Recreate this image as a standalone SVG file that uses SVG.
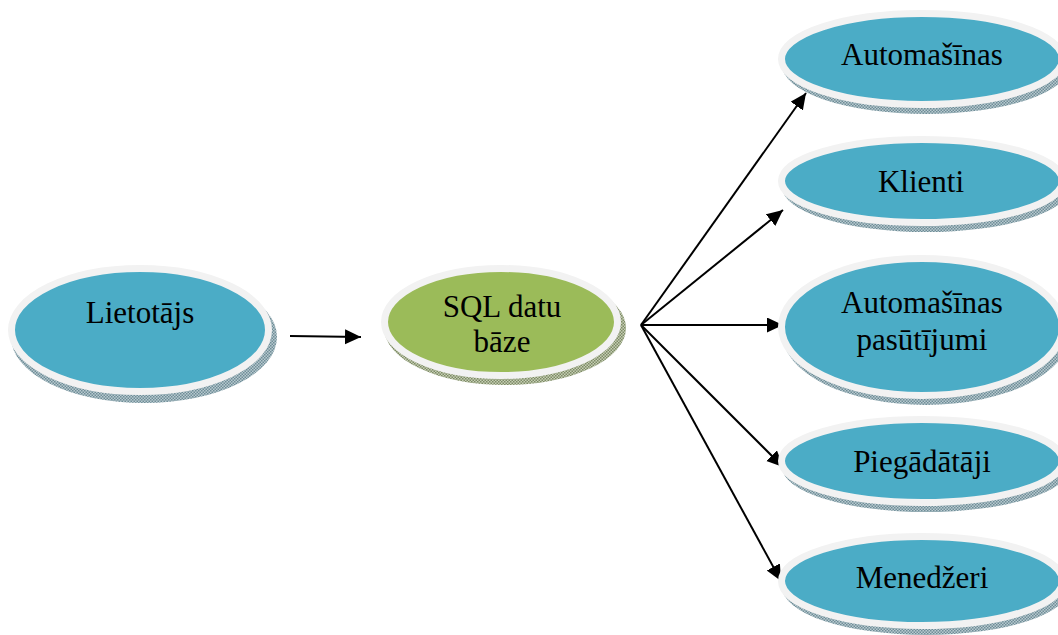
<svg xmlns="http://www.w3.org/2000/svg" width="1058" height="635" viewBox="0 0 1058 635">
<defs>
<pattern id="hatchB" width="3" height="3" patternUnits="userSpaceOnUse">
<rect width="3" height="3" fill="#b9c9cf"/>
<rect width="1.5" height="1.5" fill="#6e8d97"/>
<rect x="1.5" y="1.5" width="1.5" height="1.5" fill="#6e8d97"/>
</pattern>
<pattern id="hatchG" width="3" height="3" patternUnits="userSpaceOnUse">
<rect width="3" height="3" fill="#c6cfb4"/>
<rect width="1.5" height="1.5" fill="#7d8a66"/>
<rect x="1.5" y="1.5" width="1.5" height="1.5" fill="#7d8a66"/>
</pattern>
<marker id="arr" markerUnits="userSpaceOnUse" markerWidth="18" markerHeight="16" refX="16" refY="7.5" orient="auto">
<path d="M0,0 L16,7.5 L0,15 Z" fill="#000"/>
</marker>
</defs>
<style>
.sh{fill:url(#hatchB)}
.shg{fill:url(#hatchG)}
.b{fill:#4bacc6;stroke:#f2f2f2;stroke-width:7}
.g{fill:#9bbb59;stroke:#f2f2f2;stroke-width:7}
.t{font-family:"Liberation Serif","Times New Roman",serif;font-size:31px;fill:#000;text-anchor:middle}
.c{stroke:#000;stroke-width:2;fill:none;marker-end:url(#arr)}
</style>
<g id="connectors">
<line class="c" x1="290" y1="336" x2="361" y2="337"/>
<line class="c" x1="641" y1="325" x2="806" y2="93"/>
<line class="c" x1="641" y1="325" x2="783" y2="210"/>
<line class="c" x1="641" y1="325" x2="783" y2="325"/>
<line class="c" x1="641" y1="325" x2="783" y2="467"/>
<line class="c" x1="641" y1="325" x2="781" y2="581"/>
</g>
<g id="lietotajs">
<ellipse class="sh" cx="144" cy="337" rx="133" ry="66"/>
<ellipse class="b" cx="140" cy="330" rx="128.5" ry="61.5"/>
<text class="t" x="140" y="323">Lietotājs</text>
</g>
<g id="sql">
<ellipse class="shg" cx="505" cy="328" rx="121" ry="57"/>
<ellipse class="g" cx="501" cy="322" rx="116.5" ry="53.5"/>
<text class="t" x="502" y="317">SQL datu</text>
<text class="t" x="502" y="352">bāze</text>
</g>
<g id="automasinas">
<ellipse class="sh" cx="926" cy="65" rx="144" ry="49"/>
<ellipse class="b" cx="922" cy="59" rx="140.5" ry="45.5"/>
<text class="t" x="922" y="65">Automašīnas</text>
</g>
<g id="klienti">
<ellipse class="sh" cx="926" cy="187" rx="144" ry="45"/>
<ellipse class="b" cx="922" cy="181" rx="140.5" ry="41.5"/>
<text class="t" x="921" y="192">Klienti</text>
</g>
<g id="pasutijumi">
<ellipse class="sh" cx="926" cy="333" rx="144" ry="72"/>
<ellipse class="b" cx="922" cy="327" rx="140.5" ry="68.5"/>
<text class="t" x="922" y="313">Automašīnas</text>
<text class="t" x="922" y="350">pasūtījumi</text>
</g>
<g id="piegadataji">
<ellipse class="sh" cx="926" cy="467" rx="144" ry="45"/>
<ellipse class="b" cx="922" cy="461" rx="140.5" ry="41.5"/>
<text class="t" x="922" y="472">Piegādātāji</text>
</g>
<g id="menedzeri">
<ellipse class="sh" cx="926" cy="587" rx="144" ry="48"/>
<ellipse class="b" cx="922" cy="581" rx="140.5" ry="44.5"/>
<text class="t" x="922" y="588">Menedžeri</text>
</g>
</svg>
